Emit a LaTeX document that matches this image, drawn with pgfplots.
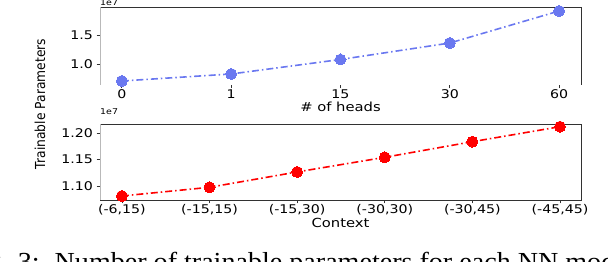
\documentclass[border=0pt]{standalone}
\usepackage{pgfplots}
\pgfplotsset{compat=1.18}
\usepackage{fontspec}
\setmainfont{DejaVu Sans}
\newfontfamily\hfont{DejaVu Sans}[FakeStretch=1.18]
\newfontfamily\capfont{Liberation Serif}[FakeStretch=1.08]
\definecolor{bluepts}{RGB}{106,120,240}
\definecolor{spine}{RGB}{50,50,50}
\definecolor{lspine}{RGB}{185,185,185}
\pgfplotsset{
  common/.style={
    scale only axis, width=481pt, clip=false,
    axis line style={draw=none},
    tick align=outside, tick pos=left, major tick length=3.5pt,
    tick style={spine, line width=0.8pt},
    scaled y ticks=false,
    /pgf/number format/assume math mode=true,
    ticklabel style={font=\hfont\fontsize{12}{14}\selectfont, text=black},
    xticklabel style={anchor=center, yshift=-6pt},
    xlabel style={font=\hfont\fontsize{12.5}{14}\selectfont, at={(axis description cs:0.5,0)}, anchor=center},
  },
}
\begin{document}
\begin{tikzpicture}
\path[use as bounding box] (0pt,0pt) rectangle (608pt,262pt);
% top axis
\begin{axis}[common, at={(100pt,177pt)}, anchor=south west, height=78pt,
  xmin=-0.2, xmax=4.2, ymin=0.638, ymax=1.983,
  xtick={0,1,2,3,4}, xticklabels={0,1,15,30,60},
  ytick={1.0,1.5}, yticklabels={1.0,1.5},
  xlabel={\# of heads}, xlabel style={yshift=-22pt}]
\addplot[color=bluepts, line width=1.6pt, dash pattern=on 7pt off 3pt on 1.5pt off 3pt,
  mark=*, mark size=5.5pt, mark options={solid, fill=bluepts, draw=bluepts, line width=0pt}]
  coordinates {(0,0.707) (1,0.828) (2,1.078) (3,1.362) (4,1.914)};
\draw[spine, line width=0.9pt] (rel axis cs:0,1) -- (rel axis cs:1,1) -- (rel axis cs:1,0);
\draw[lspine, line width=0.9pt] (rel axis cs:0,0) -- (rel axis cs:0,1);
\end{axis}
% bottom axis
\begin{axis}[common, at={(100pt,62pt)}, anchor=south west, height=76pt,
  xmin=-0.25, xmax=5.24, ymin=1.0734, ymax=1.2176,
  xtick={0,1,2,3,4,5}, xticklabels={(-6{,}15),(-15{,}15),(-15{,}30),(-30{,}30),(-30{,}45),(-45{,}45)},
  ytick={1.10,1.15,1.20}, yticklabels={1.10,1.15,1.20},
  xlabel={Context}, xlabel style={yshift=-23pt}]
\addplot[color=red, line width=1.6pt, dash pattern=on 7pt off 3pt on 1.5pt off 3pt,
  mark=*, mark size=5.5pt, mark options={solid, fill=red, draw=red, line width=0pt}]
  coordinates {(0,1.081) (1,1.0975) (2,1.1266) (3,1.1544) (4,1.184) (5,1.2125)};
\draw[spine, line width=0.9pt] (rel axis cs:0,0) -- (rel axis cs:1,0) -- (rel axis cs:1,1) -- (rel axis cs:0,1);
\draw[lspine, line width=0.9pt] (rel axis cs:0,0) -- (rel axis cs:0,1);
\end{axis}
% offset texts
\node[anchor=base west, inner sep=0pt, font=\hfont\fontsize{8}{9}\selectfont] at (100pt,256.5pt) {1e7};
\node[anchor=base west, inner sep=0pt, font=\hfont\fontsize{8}{9}\selectfont] at (100pt,147pt) {1e7};
% y label
\node[rotate=90, yscale=1.12, inner sep=0pt, font=\fontsize{12.3}{14}\selectfont] at (40pt,158pt) {Trainable Parameters};
% caption (cut by the page edge)
\node[anchor=base east, inner sep=0pt, font=\capfont\fontsize{26}{28}\selectfont] at (40pt,-8.5pt) {Fig. 3:};
\node[anchor=base west, inner sep=0pt, font=\capfont\fontsize{26}{28}\selectfont] at (54.5pt,-8.5pt) {Number of trainable parameters for each NN model};
\end{tikzpicture}
\end{document}
